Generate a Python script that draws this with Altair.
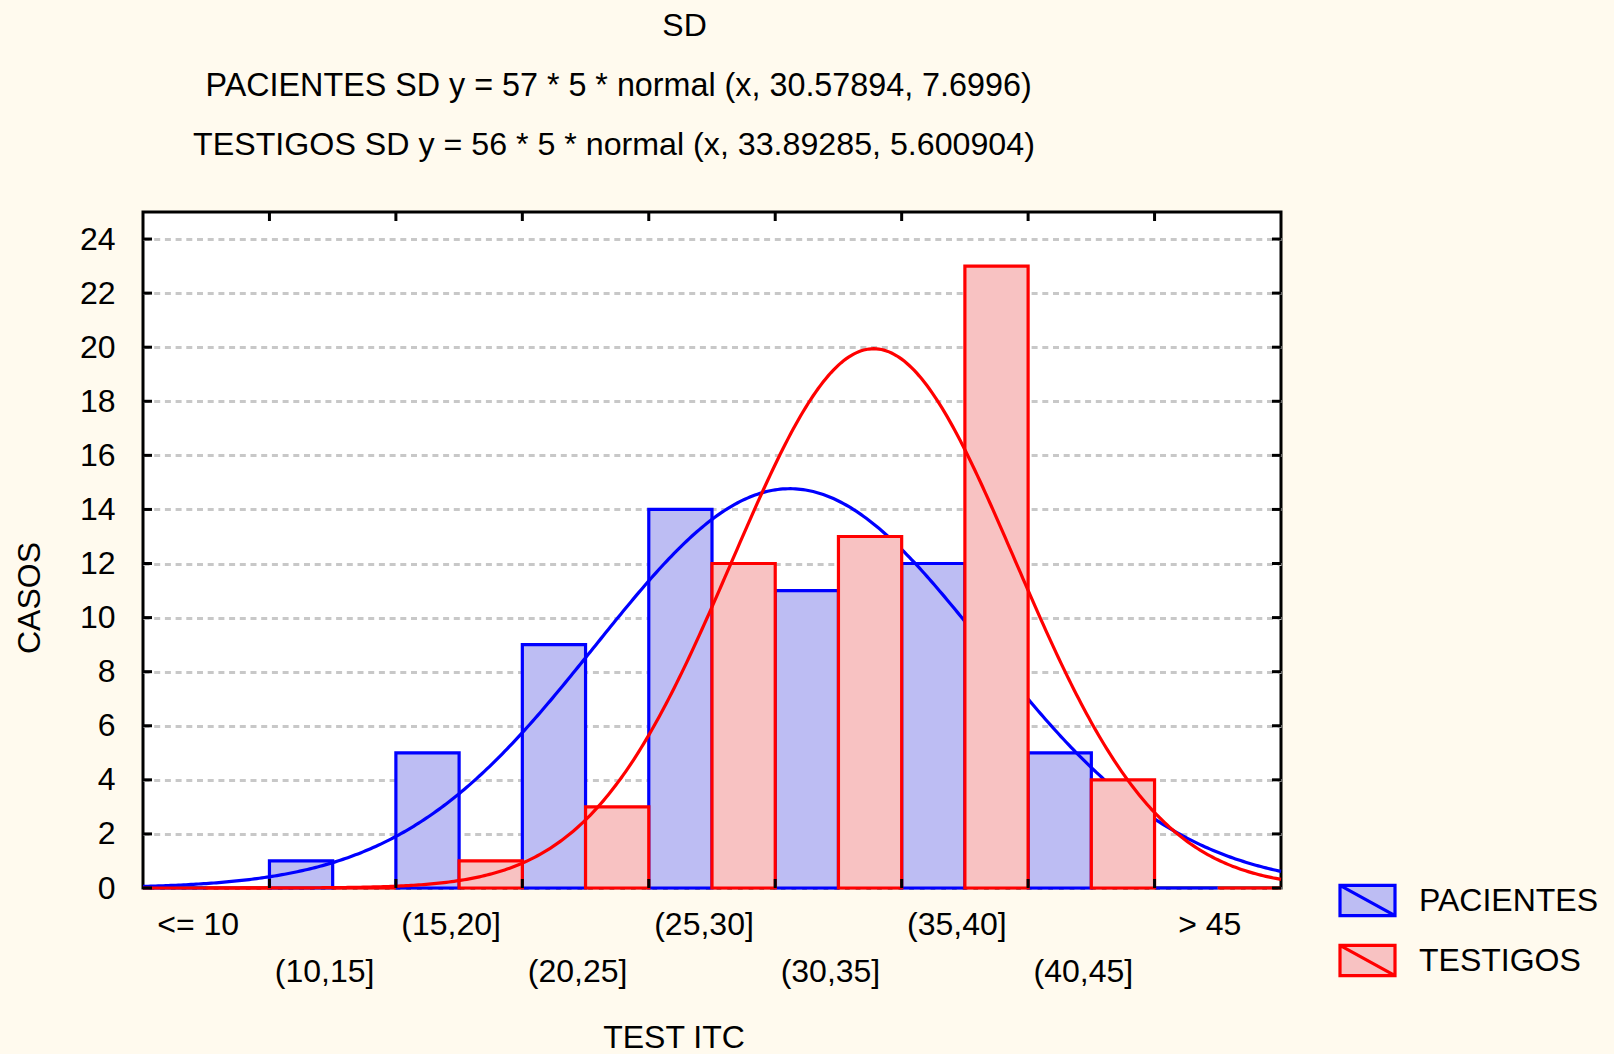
import altair as alt
import pandas as pd

# ---------------- data ----------------
categories = ["<= 10", "(10,15]", "(15,20]", "(20,25]", "(25,30]",
              "(30,35]", "(35,40]", "(40,45]", "> 45"]
bin_start = [5, 10, 15, 20, 25, 30, 35, 40, 45]
pacientes = [0, 1, 5, 9, 14, 11, 12, 5, 0]
testigos = [0, 0, 1, 3, 12, 13, 23, 4, 0]
groups = ["PACIENTES", "TESTIGOS"]
group_n = [57, 56]
group_mean = [30.57894, 33.89285]
group_sd = [7.6996, 5.600904]
bin_width = 5
y_ticks = list(range(0, 25, 2))
x_edges = [10, 15, 20, 25, 30, 35, 40, 45]
title_lines = ["SD",
               "PACIENTES SD y = 57 * 5 * normal (x, 30.57894, 7.6996)",
               "TESTIGOS SD y = 56 * 5 * normal (x, 33.89285, 5.600904)"]
x_title = "TEST ITC"
y_title = "CASOS"

# ---------------- tables ----------------
rows = []
for gi, (g, vals) in enumerate(zip(groups, [pacientes, testigos])):
    for i, (c, s, v) in enumerate(zip(categories, bin_start, vals)):
        lo = s + gi * bin_width / 2
        rows.append({"group": g, "cat": c, "lo": lo, "hi": lo + bin_width / 2, "count": v})
bars_df = pd.DataFrame(rows)
cat_df = pd.DataFrame({"cat": categories,
                       "center": [s + bin_width / 2 for s in bin_start],
                       "row": [i % 2 for i in range(len(categories))]})
ytick_df = pd.DataFrame({"v": y_ticks})
xtick_df = pd.DataFrame({"v": x_edges})

W, H = 1138, 676
FONT = "Liberation Sans"
FS = 32
fills = ["#bdbdf3", "#f8c2c2"]
strokes = ["#0000ff", "#ff0000"]

xs = alt.Scale(domain=[5, 50], nice=False, zero=False)
ys = alt.Scale(domain=[0, 25], nice=False)
yaxis = alt.Axis(values=y_ticks, grid=True, gridDash=[6, 4.7], gridColor="#c8c8c8",
                 gridWidth=3, ticks=False, tickSize=0, domain=False,
                 labelFont=FONT, labelFontSize=FS, labelColor="black",
                 labelPadding=28, title=None)

leg = alt.Legend(orient="none", legendX=1195, legendY=659,
                 symbolType="M-1,-0.55H1V0.55H-1Z M-1,-0.55L1,0.55",
                 symbolSize=3025, symbolStrokeWidth=3.2,
                 labelFont=FONT, labelFontSize=FS, labelColor="black",
                 labelOffset=22, rowPadding=8, padding=0, labelLimit=400)


def bars(g):
    return alt.Chart(bars_df).transform_filter(alt.datum.group == g).mark_bar(
        strokeWidth=3.2).encode(
        x=alt.X("lo:Q", scale=xs, axis=None),
        x2="hi:Q",
        y=alt.Y("count:Q", scale=ys, axis=yaxis),
        y2=alt.datum(0),
        color=alt.Color("group:N", scale=alt.Scale(domain=groups, range=fills),
                        title=None, legend=leg),
        stroke=alt.Stroke("group:N", scale=alt.Scale(domain=groups, range=strokes),
                          title=None, legend=leg),
    )


def curve(gi):
    expr = (f"{group_n[gi]} * {bin_width} * densityNormal(datum.x, "
            f"{group_mean[gi]}, {group_sd[gi]})")
    return alt.Chart(alt.sequence(5, 50.01, 0.1, as_="x")).transform_calculate(
        y=expr).mark_line(color=strokes[gi], strokeWidth=3.2).encode(
        x=alt.X("x:Q", scale=xs, axis=None),
        y=alt.Y("y:Q", scale=ys, axis=yaxis),
    )


tick_style = dict(color="black", strokeWidth=3)
ytick_left = alt.Chart(ytick_df).mark_rule(**tick_style).encode(
    y=alt.Y("v:Q", scale=ys, axis=yaxis), x=alt.value(0), x2=alt.value(9))
ytick_right = alt.Chart(ytick_df).mark_rule(**tick_style).encode(
    y=alt.Y("v:Q", scale=ys, axis=yaxis), x=alt.value(W - 9), x2=alt.value(W))
xtick_top = alt.Chart(xtick_df).mark_rule(**tick_style).encode(
    x=alt.X("v:Q", scale=xs, axis=None), y=alt.value(0), y2=alt.value(9))
xtick_bottom = alt.Chart(xtick_df).mark_rule(**tick_style).encode(
    x=alt.X("v:Q", scale=xs, axis=None), y=alt.value(H - 9), y2=alt.value(H))

txt = dict(font=FONT, fontSize=FS, color="black")


def cat_labels(r, ypix):
    return alt.Chart(cat_df).transform_filter(alt.datum.row == r).mark_text(
        align="center", baseline="alphabetic", dx=-8, **txt).encode(
        x=alt.X("center:Q", scale=xs, axis=None), y=alt.value(ypix), text="cat:N")


def label(t, x, y, size=FS, **kw):
    return alt.Chart(pd.DataFrame({"t": [t]})).mark_text(
        font=FONT, fontSize=size, color="black", **kw).encode(
        x=alt.value(x), y=alt.value(y), text="t:N")


titles = [
    label(title_lines[0], 541.5, -176, align="center", baseline="alphabetic"),
    label(title_lines[1], 475.6, -116.3, size=32.3, align="center", baseline="alphabetic"),
    label(title_lines[2], 471, -57, size=32.2, align="center", baseline="alphabetic"),
    label(x_title, 531, 836, align="center", baseline="alphabetic"),
    label(y_title, -113, 386, align="center", baseline="middle", angle=270),
]

chart = alt.layer(
    bars("PACIENTES"), curve(0), bars("TESTIGOS"), curve(1),
    ytick_left, ytick_right, xtick_top, xtick_bottom,
    cat_labels(0, 723), cat_labels(1, 769.7),
    *titles,
).properties(
    width=W, height=H,
    autosize="none",
    padding={"left": 143, "top": 212, "right": 1614 - 143 - W, "bottom": 1054 - 212 - H},
    background="#fffaee",
).configure_view(stroke="black", strokeWidth=3, fill="white")

chart.save("out.html", embed_options={"renderer": "svg", "actions": False})
